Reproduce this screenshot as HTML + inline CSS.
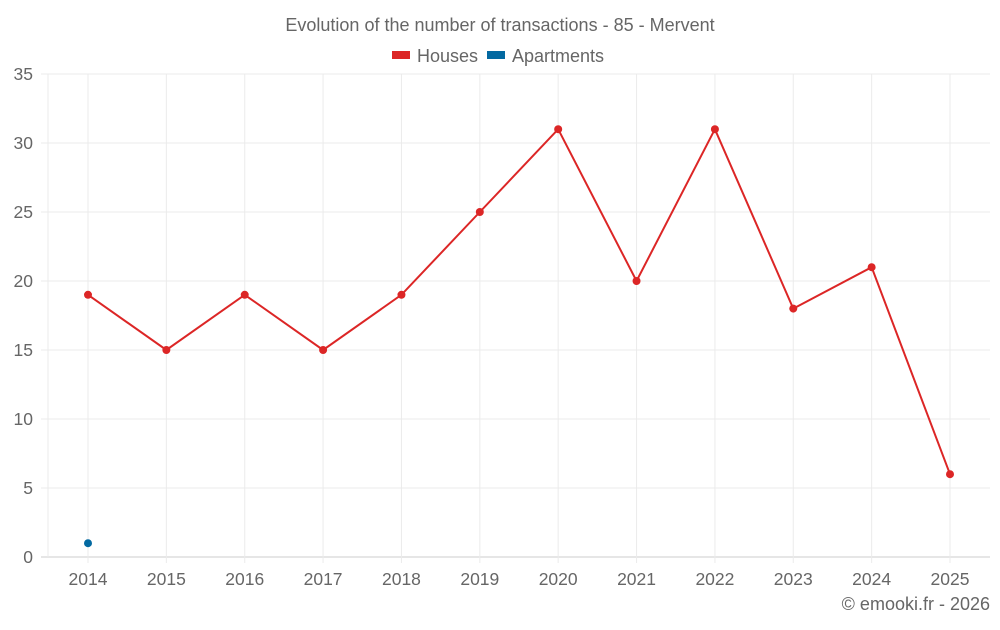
<!DOCTYPE html>
<html><head><meta charset="utf-8"><style>
body{margin:0;background:#fff;font-family:"Liberation Sans",sans-serif}
svg text{font-family:"Liberation Sans",sans-serif;fill:#666}
</style></head><body>
<svg id="c" width="1000" height="625">
<text x="500" y="31" text-anchor="middle" font-size="18">Evolution of the number of transactions - 85 - Mervent</text>
<g>
<g><rect x="392" y="51" width="18" height="8" fill="#dc2626"/><text x="417" y="62" font-size="18">Houses</text></g>
<g><rect x="487" y="51" width="18" height="8" fill="#0369a1"/><text x="512" y="62" font-size="18">Apartments</text></g>
</g>
<g id="grid"></g><g id="marks"></g>
<text x="990" y="610" text-anchor="end" font-size="18">© emooki.fr - 2026</text>
</svg>
<script>
const years=["2014","2015","2016","2017","2018","2019","2020","2021","2022","2023","2024","2025"];
const houses=[19,15,19,15,19,25,31,20,31,18,21,6];
const apartments=[1,null,null,null,null,null,null,null,null,null,null,null];
const yTicks=[0,5,10,15,20,25,30,35];
const NS="http://www.w3.org/2000/svg";
const L=48,R=990,T=74,B=557,yMax=35;
const x=i=>88+i*(950-88)/(years.length-1);
const y=v=>B-(v/yMax)*(B-T);
function el(t,a,p){const e=document.createElementNS(NS,t);for(const k in a)e.setAttribute(k,a[k]);p.appendChild(e);return e;}
const g=document.getElementById('grid'),m=document.getElementById('marks');
yTicks.forEach(v=>{
 const l=el('line',{x1:41,x2:R,y1:y(v),y2:y(v),stroke:v===0?'#ccc':'#ebebeb'},g);
 
 
 const t=el('text',{x:33,y:y(v)+6,'text-anchor':'end','font-size':17.5},g);t.textContent=v;
 
 
});
el('line',{x1:L,x2:L,y1:T,y2:B,stroke:'#ebebeb'},g);
years.forEach((yr,i)=>{
 const l=el('line',{x1:x(i),x2:x(i),y1:T,y2:B+6,stroke:'#ebebeb'},g);
 
 
 const t=el('text',{x:x(i),y:585,'text-anchor':'middle','font-size':17.5},g);t.textContent=yr;
 
 
});
function series(vals,color,name){
 let d='';vals.forEach((v,i)=>{if(v==null)return;d+=(d?'L':'M')+x(i)+','+y(v);});
 const p=el('path',{d:d,fill:'none',stroke:color,'stroke-width':2},m);
 
 
 vals.forEach((v,i)=>{if(v==null)return;
  const c=el('circle',{cx:x(i),cy:y(v),r:4,fill:color},m);
  
  
 });
}
series(houses,'#dc2626','houses');
series(apartments,'#0369a1','apartments');
</script>
</body></html>
